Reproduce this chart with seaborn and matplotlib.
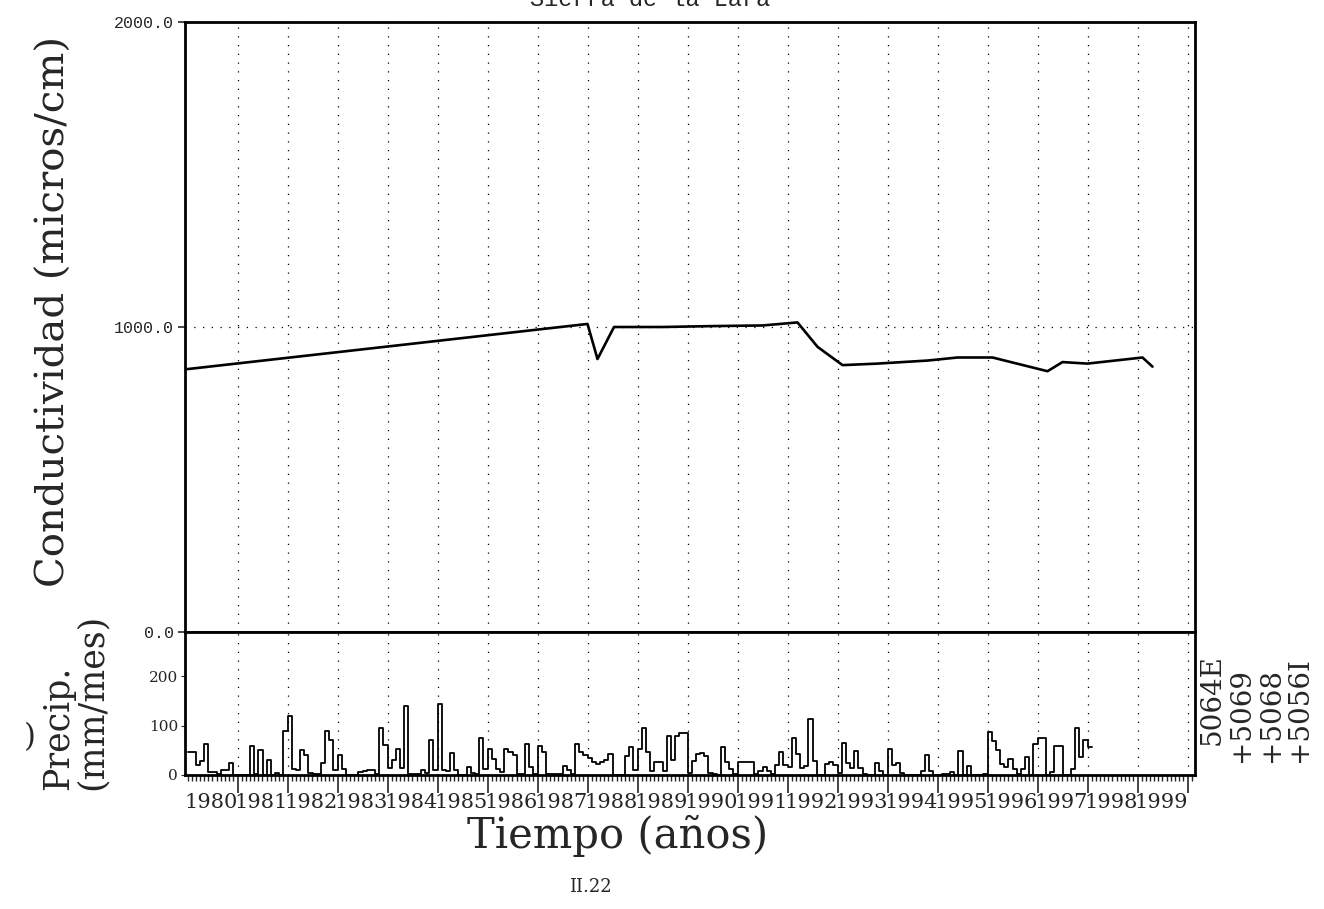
import numpy as np
import pandas as pd
import matplotlib
matplotlib.use('Agg')
import matplotlib.pyplot as plt
import seaborn as sns

# conductivity series (microS/cm)
cond_year = [1979.0, 1987.0, 1987.2, 1987.53, 1988.5, 1989.5, 1990.5, 1991.2,
             1991.6, 1992.1, 1992.8, 1993.8, 1994.4, 1995.1, 1996.2, 1996.5,
             1997.0, 1998.1, 1998.3]
cond_value = [862, 1010, 895, 1000, 1000, 1003, 1005, 1015,
              935, 875, 880, 890, 900, 900, 855, 885,
              880, 900, 870]

# monthly precipitation (mm/mes), Jan 1979 onwards
precip_start = 1979
precip_mm = [
    47, 47, 20, 28, 63, 7, 6, 3, 10, 10, 25, 1,        # 1979
    1, 1, 1, 58, 2, 50, 1, 31, 1, 5, 1, 90,            # 1980
    120, 13, 10, 50, 40, 5, 3, 2, 25, 90, 70, 10,      # 1981
    40, 12, 1, 1, 1, 6, 8, 10, 10, 2, 95, 60,          # 1982
    15, 30, 52, 15, 140, 2, 2, 3, 10, 5, 70, 10,       # 1983
    143, 10, 8, 45, 10, 1, 1, 17, 5, 2, 75, 13,        # 1984
    53, 33, 13, 7, 52, 47, 40, 2, 2, 63, 17, 3,        # 1985
    58, 47, 2, 3, 2, 2, 18, 11, 3, 63, 47, 40,         # 1986
    35, 27, 23, 27, 31, 43, 1, 1, 1, 38, 57, 10,       # 1987
    53, 95, 47, 8, 27, 27, 8, 79, 30, 80, 85, 85,      # 1988
    5, 28, 42, 45, 39, 5, 3, 1, 57, 27, 13, 3,         # 1989
    27, 27, 27, 27, 3, 9, 17, 9, 3, 20, 47, 20,        # 1990
    17, 76, 43, 15, 19, 113, 29, 1, 1, 23, 27, 21,     # 1991
    5, 65, 25, 15, 48, 15, 3, 1, 1, 24, 9, 1,          # 1992
    53, 20, 25, 5, 1, 1, 1, 1, 9, 41, 9, 1,            # 1993
    0, 2, 2, 7, 1, 49, 1, 19, 1, 0, 0, 2,              # 1994
    87, 69, 50, 22, 17, 33, 13, 2, 13, 37, 1, 62,      # 1995
    75, 75, 1, 7, 59, 59, 1, 1, 12, 95, 37, 71,        # 1996
    57,                                                # 1997
]

year_ticks = list(range(1980, 2000))
cond_ticks = [0, 1000, 2000]
cond_tick_labels = ['0.0', '1000.0', '2000.0']
precip_ticks = [0, 100, 200]
well_codes = ['5064E', '+5069', '+5068', '+5056I']

sns.set_style('ticks')
plt.rcParams['font.family'] = ['DejaVu Serif']

W, H = 1324, 909
fig = plt.figure(figsize=(W / 100, H / 100), dpi=100)
ax1 = fig.add_axes([185 / W, 1 - 632 / H, 1010 / W, 610 / H])
ax2 = fig.add_axes([185 / W, 1 - 775 / H, 1010 / W, 143 / H], sharex=ax1)

# conductivity line
df_cond = pd.DataFrame({'year': cond_year, 'cond': cond_value})
sns.lineplot(data=df_cond, x='year', y='cond', color='black', lw=1.9, ax=ax1)

# precipitation steps (extra edge so the last month gets its width)
t = precip_start + np.arange(len(precip_mm) + 1) / 12
df_p = pd.DataFrame({'t': t, 'p': precip_mm + precip_mm[-1:]})
sns.lineplot(data=df_p, x='t', y='p', drawstyle='steps-post', color='black',
             lw=1.3, ax=ax2)

dots = (0, (1, 6))
for ax in (ax1, ax2):
    ax.set_xlim(1978.95, 1999.15)
    ax.set_xlabel('')
    ax.set_ylabel('')
    for s in ax.spines.values():
        s.set_visible(True)
        s.set_linewidth(2)
        s.set_color('black')

ax1.set_ylim(0, 2000)
ax1.set_yticks(cond_ticks, labels=cond_tick_labels)
ax1.tick_params(axis='y', length=5, width=1.2, labelsize=12, pad=3)
for lbl in ax1.get_yticklabels():
    lbl.set_family('Liberation Mono')
ax1.tick_params(axis='x', which='both', length=0, labelbottom=False)
ax1.grid(True, ls=dots, color='black', lw=0.9)

ax2.set_ylim(0, 290)
ax2.set_yticks(precip_ticks)
ax2.tick_params(axis='y', length=3, labelsize=11, pad=2)
ax2.set_xticks(year_ticks, labels=[str(y) for y in year_ticks])
ax2.set_xticks(np.arange(1979, 1999.1, 1 / 12), minor=True)
ax2.tick_params(axis='x', which='major', length=13, width=1.2, labelsize=15, pad=0)
ax2.tick_params(axis='x', which='minor', length=4, width=1)
for lbl in ax2.get_xticklabels():
    lbl.set_ha('right')
ax2.grid(True, axis='x', ls=dots, color='black', lw=0.9)

# texts around the frame
fig.text(650 / W, 1.0, 'Sierra de la Lara', family='Liberation Mono',
         fontsize=17, ha='center', va='center')
fig.text(54 / W, 1 - 312 / H, 'Conductividad (micros/cm)', rotation=90,
         ha='center', va='center', fontsize=29)
fig.text(58 / W, 1 - 790 / H, 'Precip.', rotation=90, ha='center',
         va='bottom', fontsize=25)
fig.text(92 / W, 1 - 790 / H, '(mm/mes)', rotation=90, ha='center',
         va='bottom', fontsize=25)
fig.text(30 / W, 1 - 738 / H, ')', ha='center', va='center', fontsize=22)
fig.text(618 / W, 1 - 848 / H, 'Tiempo (años)', ha='center', va='baseline',
         fontsize=30)
fig.text(590 / W, 1 - 887 / H, 'II.22', ha='center', va='center', fontsize=13)

code_x = [1212, 1242, 1271, 1300]
code_bottom = [745, 762, 762, 762]
for code, x, yb in zip(well_codes, code_x, code_bottom):
    fig.text(x / W, 1 - yb / H, code, rotation=90, ha='center', va='bottom',
             fontsize=20)

fig.savefig('out.png', dpi=100)
